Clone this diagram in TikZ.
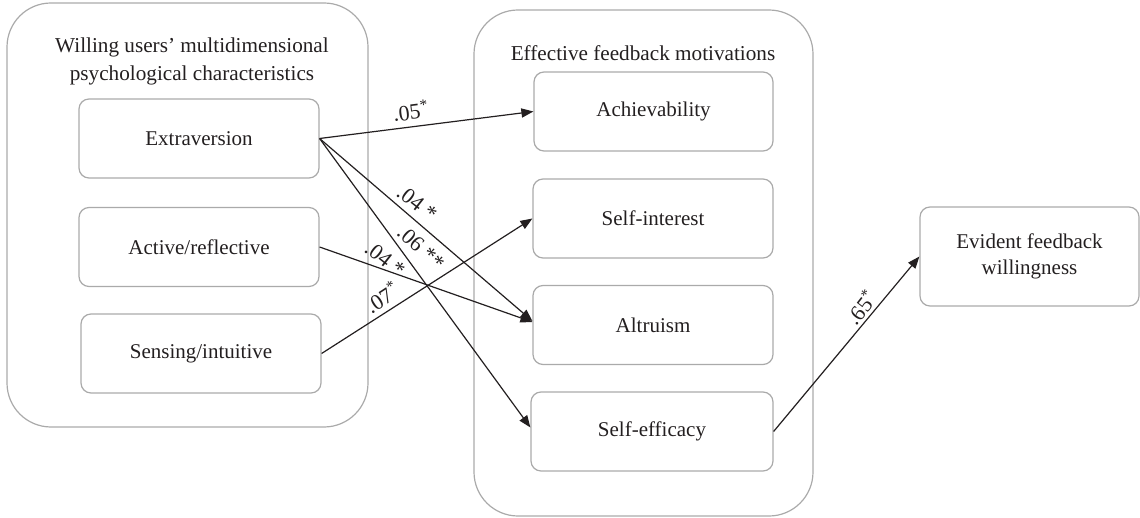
\documentclass[tikz,border=0pt]{standalone}
\usepackage{fontspec}
\setmainfont{Liberation Serif}
\usetikzlibrary{arrows.meta}
\definecolor{boxgray}{HTML}{AAAAAA}
\definecolor{ink}{HTML}{231F20}
\begin{document}
\begin{tikzpicture}[x=0.5pt,y=-0.5pt,
  every node/.style={text=ink},
  container/.style={draw=boxgray, line width=0.6pt, rounded corners=22pt, inner sep=0pt},
  box/.style={draw=boxgray, line width=0.6pt, rounded corners=5pt, minimum width=120pt, minimum height=39.5pt, inner sep=0pt, align=center, font=\fontsize{10.5}{13}\selectfont},
  title/.style={align=center, font=\fontsize{10.6}{14}\selectfont, inner sep=0pt},
  lbl/.style={font=\fontsize{11}{12}\selectfont, inner sep=0pt},
  arr/.style={draw=ink, line width=0.6pt, -{Triangle[length=6pt,width=4.6pt]}}
]
\useasboundingbox (0,0) rectangle (1140,518);

% containers
\node[container, minimum width=180.5pt, minimum height=212pt] (left) at (187.5,215) {};
\node[container, minimum width=169.5pt, minimum height=253pt] (mid) at (643.5,263) {};

% titles
\node[title] (ltitle) at (192,61) {Willing users’ multidimensional\\psychological characteristics};
\node[title] (mtitle) at (643,53) {Effective feedback motivations};

% left boxes
\node[box] (ext) at (199,138.5) {Extraversion};
\node[box] (act) at (199,247) {Active/reflective};
\node[box] (sen) at (201,353.5) {Sensing/intuitive};

% middle boxes
\node[box, minimum width=119.5pt] (ach) at (653.5,111.5) {Achievability};
\node[box] (sin) at (653,218.5) {Self-interest};
\node[box] (alt) at (653,325) {Altruism};
\node[box, minimum width=121pt] (sef) at (652,431.5) {Self-efficacy};

% right box
\node[box, minimum width=109.5pt, minimum height=49.5pt] (evi) at (1029.5,256.5) {Evident feedback\\willingness};

% connectors
\draw[arr] (ext.east) -- (ach.west);
\draw[arr] (ext.east) -- ([yshift=2pt]alt.west);
\draw[arr] (ext.east) -- ([yshift=2pt]sef.west);
\draw[arr] (act.east) -- ([yshift=1.5pt]alt.west);
\draw[arr] (sen.east) -- (sin.west);
\draw[arr] (sef.east) -- (evi.west);

% labels
\node[lbl, rotate=7] (l1) at (411,111) {.05\textsuperscript{*}};
\node[lbl, rotate=-38] (l2) at (417,203) {.04 *};
\node[lbl, rotate=-42] (l3) at (421,248) {.06 **};
\node[lbl, rotate=-38] (l4) at (385,259) {.04 *};
\node[lbl, rotate=33] (l5) at (382,297) {.07\textsuperscript{*}};
\node[lbl, rotate=52] (l6) at (861,307) {.65\textsuperscript{*}};
\end{tikzpicture}
\end{document}
